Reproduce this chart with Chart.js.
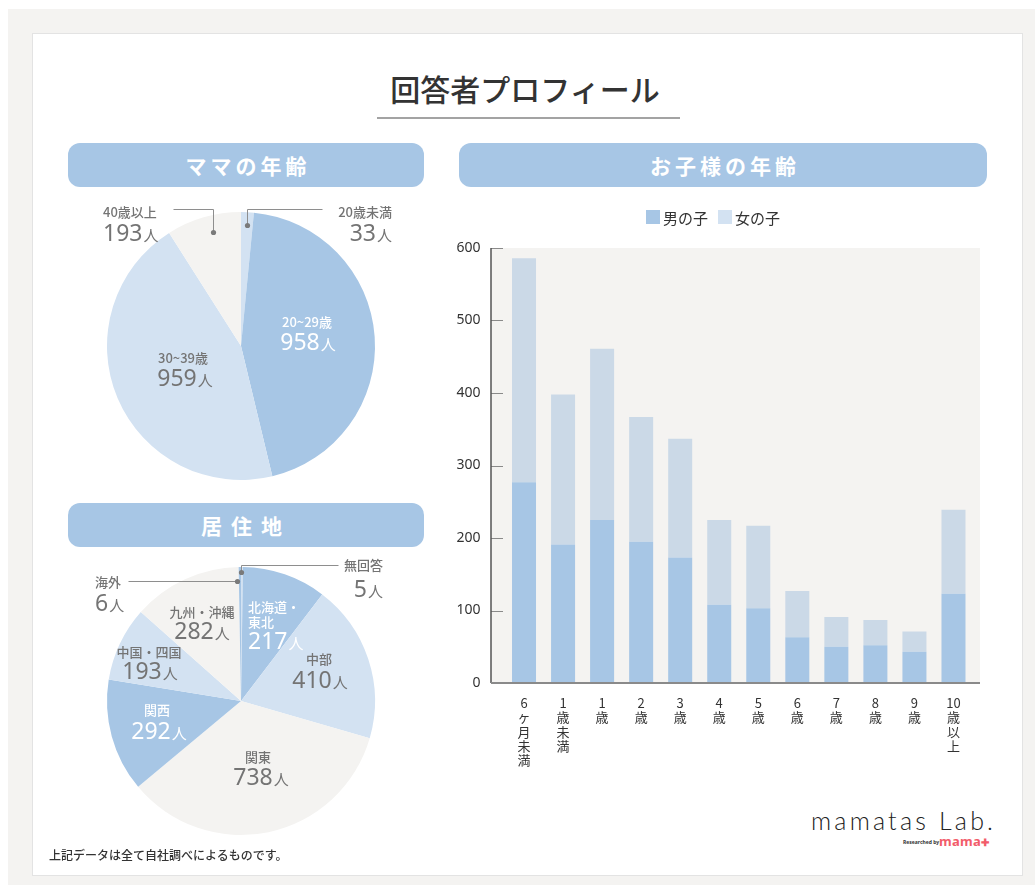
<!DOCTYPE html>
<html><head><meta charset="utf-8">
<script src="https://cdn.jsdelivr.net/npm/chart.js@4.4.0/dist/chart.umd.min.js"></script>
<style>
html,body{margin:0;padding:0;background:#fff;width:1035px;height:888px;overflow:hidden;font-family:'Noto Sans CJK JP','Noto Sans',sans-serif;}
#bg{position:absolute;left:8px;top:9px;width:1027px;height:876px;background:#f4f3f1;}
#card{position:absolute;left:32px;top:33px;width:989px;height:841px;background:#fff;border:1px solid #e3e3e3;}
.hdr{position:absolute;background:#a7c6e5;border-radius:12px;color:#fff;font-weight:700;font-size:21px;letter-spacing:4px;text-indent:4px;text-align:center;line-height:44px;height:44px;}
#title{position:absolute;left:340px;top:66px;width:370px;text-align:center;font-size:30px;font-weight:500;color:#333;line-height:44px;}
#uline{position:absolute;left:377px;top:117px;width:303px;height:2px;background:#a3a3a3;}
canvas{position:absolute;}
#note{position:absolute;left:49px;top:846px;font-size:12px;font-weight:500;color:#333;line-height:18px;}
#logo{position:absolute;left:811px;top:803px;font-family:Lato,'Noto Sans',sans-serif;font-weight:300;font-size:25px;letter-spacing:3.2px;color:#222;line-height:34px;white-space:nowrap;}
#res{position:absolute;left:903px;top:839px;font-family:'Noto Sans',sans-serif;font-weight:700;font-size:5px;color:#333;line-height:7px;white-space:nowrap;}
#mama{position:absolute;left:939px;top:833px;font-family:'Noto Sans',sans-serif;font-weight:700;font-size:13px;color:#f25c6a;line-height:16px;white-space:nowrap;letter-spacing:0.3px;}
</style></head>
<body>
<div id="bg"></div>
<div id="card"></div>
<div id="title">回答者プロフィール</div>
<div id="uline"></div>
<div class="hdr" style="left:68px;top:143px;width:356px;">ママの年齢</div>
<div class="hdr" style="left:459px;top:143px;width:528px;">お子様の年齢</div>
<div class="hdr" style="left:68px;top:503px;width:356px;letter-spacing:9px;text-indent:0;">居住地</div>
<canvas id="pie1" width="380" height="300" style="left:60px;top:195px;"></canvas>
<canvas id="pie2" width="380" height="310" style="left:60px;top:550px;"></canvas>
<canvas id="bar" width="560" height="600" style="left:440px;top:195px;"></canvas>
<div id="note">上記データは全て自社調べによるものです。</div>
<div id="logo">mamatas Lab.</div>
<div id="res">Researched by</div>
<div id="mama">mama<span style="font-size:10px;">✚</span></div>
<script>
// ---- data ----
const momLabels = ['20歳未満', '20~29歳', '30~39歳', '40歳以上'];
const momValues = [33, 958, 959, 193];
const areaLabels = ['無回答', '北海道・東北', '中部', '関東', '関西', '中国・四国', '九州・沖縄', '海外'];
const areaValues = [5, 217, 410, 738, 292, 193, 282, 6];
const childAgeLabels = [
  ['6','ヶ','月','未','満'], ['1','歳','未','満'], ['1','歳'], ['2','歳'], ['3','歳'], ['4','歳'],
  ['5','歳'], ['6','歳'], ['7','歳'], ['8','歳'], ['9','歳'], ['10','歳','以','上']
];
const seriesNames = ['男の子', '女の子'];
const boys  = [277, 191, 225, 195, 173, 108, 103, 63, 50, 52, 43, 123];
const girls = [309, 207, 236, 172, 164, 117, 114, 64, 41, 35, 28, 116];
const yTicks = [0, 100, 200, 300, 400, 500, 600];

// ---- styles ----
const BLUE = '#a7c6e5', LIGHT = '#d3e2f2', OFF = '#f4f3f1', GIRL = '#cbd9e7';
const JP = "'Noto Sans CJK JP','Noto Sans',sans-serif";
const NUM = "'Noto Sans','Noto Sans CJK JP',sans-serif";
const GRAY = '#747474';

function drawText(ctx, s, x, y, align) {
  ctx.textAlign = align; ctx.fillText(s, x, y);
}
function drawValue(ctx, num, unit, x, y, align, color) {
  ctx.fillStyle = color;
  ctx.textBaseline = 'alphabetic';
  ctx.textAlign = 'left';
  ctx.font = `400 23px ${NUM}`;
  const w1 = ctx.measureText(num).width;
  ctx.font = `400 15px ${JP}`;
  const w2 = ctx.measureText(unit).width;
  const w = w1 + w2 + 1;
  let sx = align === 'left' ? x : align === 'right' ? x - w : x - w / 2;
  const base = y + 8;
  ctx.font = `400 23px ${NUM}`;
  ctx.fillText(num, sx, base);
  ctx.font = `400 15px ${JP}`;
  ctx.fillText(unit, sx + w1 + 1, base);
}

const pieLabelPlugin = {
  id: 'pieLabels',
  afterDraw(chart, args, o) {
    const ctx = chart.ctx;
    const arc = chart.getDatasetMeta(0).data[0];
    const cx = arc.x, cy = arc.y;
    const ds = chart.data.datasets[0];
    ctx.save();
    o.items.forEach(it => {
      if (it.leader) {
        ctx.strokeStyle = '#8e8e8e'; ctx.lineWidth = 1;
        ctx.beginPath();
        it.leader.forEach((p, i) => {
          const x = Math.round(cx + p[0]) + 0.5, y = Math.round(cy + p[1]) + 0.5;
          i ? ctx.lineTo(x, y) : ctx.moveTo(x, y);
        });
        ctx.stroke();
        ctx.fillStyle = '#7a7a7a';
        ctx.beginPath(); ctx.arc(cx + it.dot[0] + 0.5, cy + it.dot[1] + 0.5, 2.6, 0, Math.PI * 2); ctx.fill();
      }
      const lines = it.lines || [chart.data.labels[it.index]];
      ctx.fillStyle = it.color;
      ctx.font = `500 13px ${JP}`;
      ctx.textBaseline = 'middle';
      lines.forEach((ln, k) => drawText(ctx, ln, cx + it.n[0], cy + it.n[1] + k * 15, it.align));
      drawValue(ctx, String(ds.data[it.index]), '人', cx + it.v[0], cy + it.v[1], it.align, it.color);
    });
    ctx.restore();
  }
};

const pieBase = (labels, values, colors, pad, items) => ({
  type: 'pie',
  data: { labels, datasets: [{ data: values, backgroundColor: colors, borderWidth: 0, hoverOffset: 0 }] },
  options: {
    responsive: false, animation: false, devicePixelRatio: 1,
    layout: { padding: pad },
    plugins: { legend: { display: false }, tooltip: { enabled: false }, pieLabels: { items } }
  },
  plugins: [pieLabelPlugin]
});

new Chart(document.getElementById('pie1'), pieBase(momLabels, momValues,
  [LIGHT, BLUE, LIGHT, OFF],
  { left: 47, top: 17, right: 65, bottom: 15 },
  [
    { index: 0, align: 'right', color: GRAY, n: [151, -134], v: [151, -113], leader: [[6, -121], [6, -137], [81, -137]], dot: [6, -121] },
    { index: 1, align: 'center', color: '#fff', n: [66, -24], v: [67, -4] },
    { index: 2, align: 'center', color: GRAY, n: [-58, 12], v: [-56, 32] },
    { index: 3, align: 'left', color: GRAY, n: [-138, -134], v: [-138, -113], leader: [[-68, -137], [-28, -137], [-28, -114]], dot: [-28, -114] }
  ]));

new Chart(document.getElementById('pie2'), pieBase(areaLabels, areaValues,
  [LIGHT, BLUE, LIGHT, OFF, BLUE, LIGHT, OFF, BLUE],
  { left: 47, top: 17, right: 65, bottom: 25 },
  [
    { index: 0, align: 'right', color: GRAY, n: [142, -136], v: [142, -112], leader: [[0, -129], [0, -136], [97, -136]], dot: [0, -129] },
    { index: 1, align: 'left', color: '#fff', lines: ['北海道・', '東北'], n: [7, -94], v: [7, -60] },
    { index: 2, align: 'center', color: GRAY, n: [78, -42], v: [79, -21] },
    { index: 3, align: 'center', color: GRAY, n: [17, 56], v: [20, 76] },
    { index: 4, align: 'center', color: '#fff', n: [-84, 9], v: [-82, 30] },
    { index: 5, align: 'center', color: GRAY, n: [-92, -49], v: [-91, -30] },
    { index: 6, align: 'center', color: GRAY, n: [-39, -89], v: [-39, -70] },
    { index: 7, align: 'left', color: GRAY, n: [-146, -119], v: [-146, -98], leader: [[-113, -120], [-4, -120]], dot: [-4, -120] }
  ]));

const barDecor = {
  id: 'barDecor',
  beforeDraw(chart, a, o) {
    const { ctx, chartArea: ca } = chart;
    ctx.save();
    ctx.fillStyle = o.plotBg;
    ctx.fillRect(ca.left - o.extraLeft, ca.top, ca.width + o.extraLeft + o.extraRight, ca.bottom - ca.top);
    ctx.restore();
  },
  afterDatasetsDraw(chart, a, o) {
    const { ctx, chartArea: ca, scales: { y } } = chart;
    const x0 = ca.left - o.extraLeft;
    ctx.save();
    ctx.strokeStyle = o.tickColor; ctx.lineWidth = 1;
    y.ticks.forEach(t => {
      if (t.value === 0) return;
      const py = Math.round(y.getPixelForValue(t.value)) + 0.5;
      ctx.beginPath(); ctx.moveTo(x0, py); ctx.lineTo(x0 + o.tickLen, py); ctx.stroke();
    });
    ctx.strokeStyle = o.yAxisColor; ctx.lineWidth = 1.5;
    ctx.beginPath(); ctx.moveTo(x0, ca.top); ctx.lineTo(x0, ca.bottom); ctx.stroke();
    ctx.strokeStyle = o.xAxisColor; ctx.lineWidth = 2;
    ctx.beginPath(); ctx.moveTo(x0, ca.bottom); ctx.lineTo(ca.right + o.extraRight, ca.bottom); ctx.stroke();
    ctx.restore();
  },
  afterDraw(chart, a, o) {
    const ctx = chart.ctx;
    ctx.save();
    ctx.font = `400 15px ${JP}`;
    const items = chart.data.datasets.map((d, i) => ({ t: d.label, c: o.legendColors[i] }));
    const sw = 14, g1 = 3, g2 = 10;
    const widths = items.map(it => sw + g1 + ctx.measureText(it.t).width);
    const total = widths.reduce((s, w) => s + w, 0) + g2 * (items.length - 1);
    let x = o.legendCenterX - total / 2;
    items.forEach((it, i) => {
      ctx.fillStyle = it.c;
      ctx.fillRect(x, o.legendY - sw / 2, sw, sw);
      ctx.fillStyle = '#333';
      ctx.textBaseline = 'middle'; ctx.textAlign = 'left';
      ctx.fillText(it.t, x + sw + g1, o.legendY + 1);
      x += widths[i] + g2;
    });
    ctx.restore();
  }
};

new Chart(document.getElementById('bar'), {
  type: 'bar',
  data: {
    labels: childAgeLabels,
    datasets: [
      { label: seriesNames[0], data: boys, backgroundColor: BLUE, barPercentage: 0.615, categoryPercentage: 1 },
      { label: seriesNames[1], data: girls, backgroundColor: GIRL, barPercentage: 0.615, categoryPercentage: 1 }
    ]
  },
  options: {
    responsive: false, animation: false, devicePixelRatio: 1,
    layout: { padding: { top: 53, right: 27, left: 0, bottom: 0 } },
    scales: {
      x: {
        stacked: true,
        grid: { display: false, drawTicks: false }, border: { display: false },
        ticks: { color: '#333', font: { size: 13, family: JP, lineHeight: 1.1 }, padding: 13, maxRotation: 0, minRotation: 0, autoSkip: false },
        afterFit(s) { s.height = 112; }
      },
      y: {
        stacked: true, min: yTicks[0], max: yTicks[yTicks.length - 1],
        afterBuildTicks(s) { s.ticks = yTicks.map(v => ({ value: v })); },
        ticks: { color: '#333', font: { size: 14, family: NUM }, padding: 24 },
        grid: { display: false, drawTicks: false }, border: { display: false },
        afterFit(s) { s.width = 64.5; }
      }
    },
    plugins: {
      legend: { display: false }, tooltip: { enabled: false },
      barDecor: { plotBg: OFF, extraLeft: 13.5, extraRight: 7, tickLen: 12, tickColor: '#8a8a8a', yAxisColor: '#555', xAxisColor: '#8a8a8a',
        legendCenterX: 273, legendY: 22, legendColors: [BLUE, LIGHT] }
    }
  },
  plugins: [barDecor]
});
</script>
</body></html>
